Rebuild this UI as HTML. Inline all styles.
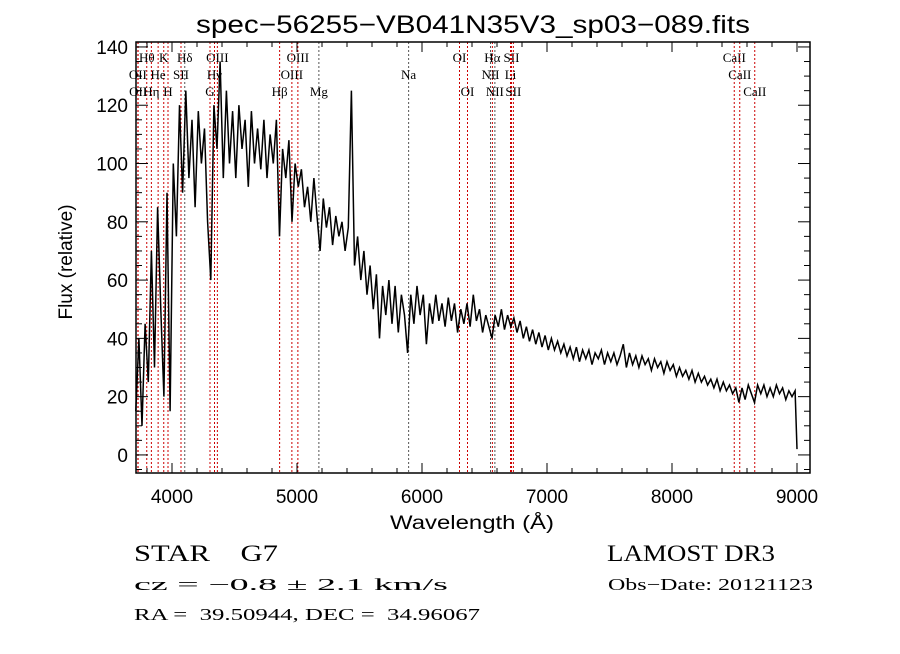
<!DOCTYPE html>
<html><head><meta charset="utf-8"><style>
body{margin:0;background:#fff}
svg text{fill:#000}
</style></head><body>
<svg id="chart" width="900" height="649" xmlns="http://www.w3.org/2000/svg">
<rect width="900" height="649" fill="#fff"/>
<text x="196" y="33" font-family="Liberation Sans, sans-serif" font-size="25" textLength="554" lengthAdjust="spacingAndGlyphs">spec−56255−VB041N35V3_sp03−089.fits</text>
<g id="lines"></g>
<g id="ticks"></g>
<path id="spec" fill="none" stroke="#000" stroke-width="1.5"/>
<rect x="136" y="42" width="674" height="431" fill="none" stroke="#000" stroke-width="1.5"/>
<text x="390" y="529" font-family="Liberation Sans, sans-serif" font-size="19" textLength="164" lengthAdjust="spacingAndGlyphs">Wavelength (Å)</text>
<text transform="translate(72,262) rotate(-90)" font-family="Liberation Sans, sans-serif" font-size="19" text-anchor="middle">Flux (relative)</text>
<g font-family="Liberation Serif, serif">
<text x="134" y="561" font-size="23" xml:space="preserve" textLength="144" lengthAdjust="spacingAndGlyphs">STAR    G7</text>
<text x="134" y="590" font-size="17" textLength="314" lengthAdjust="spacingAndGlyphs">cz = −0.8 ± 2.1 km/s</text>
<text x="134" y="620" font-size="17" xml:space="preserve" textLength="346" lengthAdjust="spacingAndGlyphs">RA =  39.50944, DEC =  34.96067</text>
<text x="607" y="561" font-size="23" textLength="168" lengthAdjust="spacingAndGlyphs">LAMOST DR3</text>
<text x="608" y="590" font-size="17" textLength="205" lengthAdjust="spacingAndGlyphs">Obs−Date: 20121123</text>
</g>
</svg>
<script>
const xTicks=[4000,5000,6000,7000,8000,9000];
const yTicks=[0,20,40,60,80,100,120,140];
const waveStart=3710, waveStep=25;
const flux=[15,40,10,45,25,70,30,85,50,20,90,15,100,75,120,90,125,95,115,85,118,100,112,80,60,120,105,135,95,125,100,118,95,120,105,115,92,118,100,112,98,115,95,110,100,115,75,105,95,108,80,100,92,98,85,92,80,95,82,70,88,78,85,72,82,75,80,70,78,125,65,75,60,70,55,65,50,62,40,58,48,60,45,58,42,55,48,35,55,45,58,48,55,38,52,45,55,46,52,44,54,46,52,42,50,45,52,44,55,46,50,42,48,44,40,48,44,50,43,48,44,47,42,46,40,44,39,43,38,42,37,41,36,40,36,39,35,38,34,37,33,37,32,36,33,36,31,35,33,36,31,35,32,35,31,34,38,30,35,31,34,30,34,31,33,29,33,30,32,28,32,29,31,27,30,27,29,26,29,25,28,25,27,24,26,23,26,22,25,22,24,21,23,18,23,19,24,21,18,24,21,24,20,23,20,24,21,23,19,22,20,22,2];
const lineWaves=[3798,3934,4102,4363,5007,6300,6563,6716,8498,3727,3889,4072,4340,4959,5893,6548,6708,8542,3729,3835,3968,4304,4861,5175,6364,6583,6731,8662];
const lineLabels=["Hθ","K","Hδ","OIII","OIII","OI","Hα","SII","CaII","OII","He","SII","Hγ","OIII","Na","NII","Li","CaII","OII","Hη","H","G","Hβ","Mg","OI","NII","SII","CaII"];
const lineRows=[0,0,0,0,0,0,0,0,0,1,1,1,1,1,1,1,1,1,2,2,2,2,2,2,2,2,2,2];
const lineDark=[0,0,1,0,0,0,0,0,0,0,0,0,0,0,1,1,0,0,0,0,0,0,0,1,0,1,0,0];
const X0=3712,X1=9104,PX0=136,PX1=810,Y0=-6.2,Y1=141.7,PY0=473,PY1=42;
const sx=w=>PX0+(w-X0)/(X1-X0)*(PX1-PX0);
const sy=f=>PY0-(f-Y0)/(Y1-Y0)*(PY0-PY1);
const NS="http://www.w3.org/2000/svg";
function mk(tag,attrs,parent){const e=document.createElementNS(NS,tag);for(const k in attrs)e.setAttribute(k,attrs[k]);parent.appendChild(e);return e;}
const gl=document.getElementById('lines');
lineWaves.forEach((w,i)=>{
  const x=sx(w);
  const l=mk('line',{x1:x,x2:x,y1:PY1,y2:PY0,stroke:lineDark[i]?'#555':'#c00','stroke-width':1,'stroke-dasharray':'2,2'},gl);
  
  
  const t=mk('text',{x:x,y:62+lineRows[i]*17,'font-family':'Liberation Serif, serif','font-size':13,'text-anchor':'middle'},gl);
  t.textContent=lineLabels[i];
  
  
});
let d='';
flux.forEach((f,i)=>{let w=waveStart+i*waveStep;if(i===flux.length-1)w=9000;d+=(i?'L':'M')+sx(w).toFixed(1)+' '+sy(f).toFixed(1);});
document.getElementById('spec').setAttribute('d',d);
const gt=document.getElementById('ticks');
for(let w=3800;w<=9100;w+=200){const x=sx(w);const big=w%1000===0;const L=big?10:5;
  mk('line',{x1:x,x2:x,y1:PY0,y2:PY0-L,stroke:'#000'},gt);mk('line',{x1:x,x2:x,y1:PY1,y2:PY1+L,stroke:'#000'},gt);}
xTicks.forEach(w=>{const t=mk('text',{x:sx(w),y:503,'font-family':'Liberation Sans, sans-serif','font-size':19,'text-anchor':'middle'},gt);t.textContent=w;
  
  });
for(let f=-5;f<=140;f+=5){const y=sy(f);const big=f%20===0;const L=big?12:6;
  mk('line',{x1:PX0,x2:PX0+L,y1:y,y2:y,stroke:'#000'},gt);mk('line',{x1:PX1,x2:PX1-L,y1:y,y2:y,stroke:'#000'},gt);}
yTicks.forEach(f=>{const t=mk('text',{x:128,y:sy(f)+7,'font-family':'Liberation Sans, sans-serif','font-size':19,'text-anchor':'end'},gt);t.textContent=f;
  
  });
</script>
</body></html>
